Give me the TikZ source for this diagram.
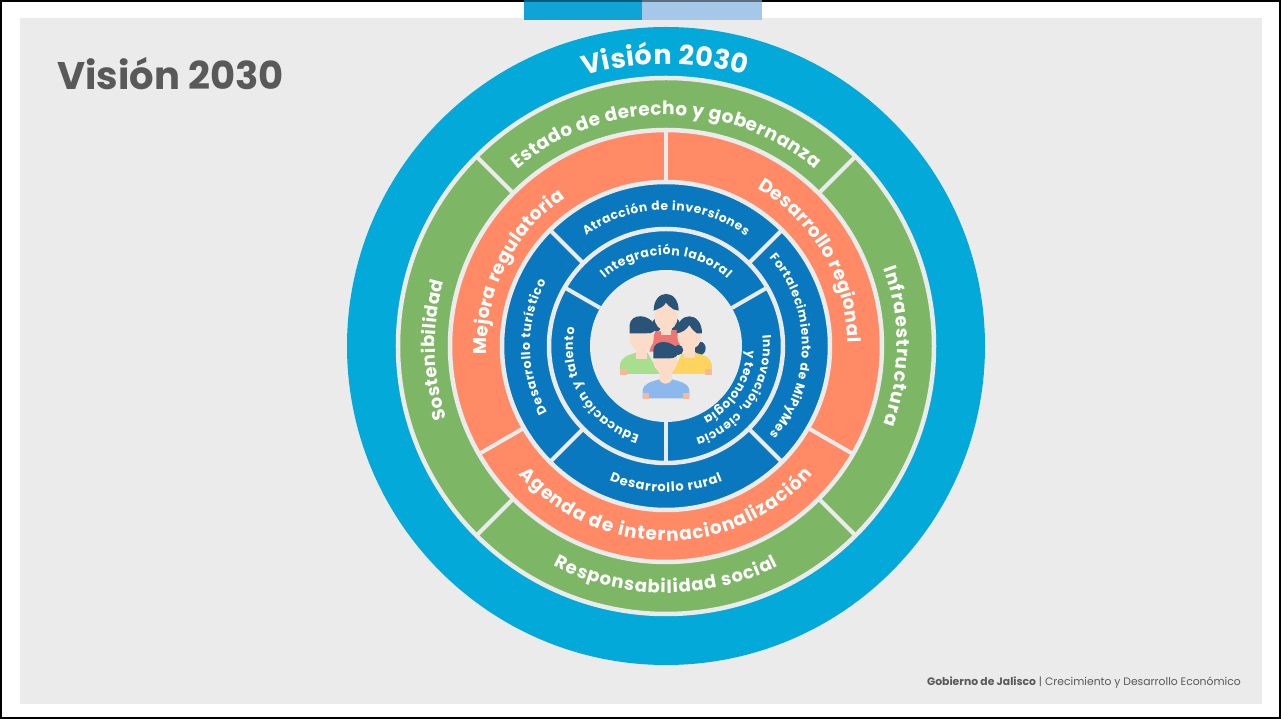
\documentclass[tikz,border=0pt]{standalone}
\usepackage{fontspec}
\setmainfont{Poppins}
\usetikzlibrary{decorations.text}
\definecolor{panel}{HTML}{EBEBEB}
\definecolor{cyanring}{HTML}{03A9D8}
\definecolor{greenring}{HTML}{7DB765}
\definecolor{orangering}{HTML}{FF8A65}
\definecolor{bluering}{HTML}{0A78BE}
\definecolor{tabdark}{HTML}{0FA3D6}
\definecolor{tablight}{HTML}{A6C8E8}
\definecolor{titlegrey}{HTML}{595959}
\definecolor{hair}{HTML}{2A5378}
\definecolor{skin}{HTML}{FBDCC8}
\definecolor{skindark}{HTML}{F7B79B}
\definecolor{shirtred}{HTML}{EF7474}
\definecolor{shirtgreen}{HTML}{A8DF8E}
\definecolor{shirtyellow}{HTML}{FFD45E}
\definecolor{shirtblue}{HTML}{8DB8EE}
\newcommand\fs[1]{\fontsize{#1}{#1}\selectfont\bfseries}
% radius, start angle, end angle, font size, letter spacing, text
\newcommand\ringtext[6]{\path[decorate,decoration={text effects along path,text align=center,text={#6},
    text effects/.cd,text along path,characters={text=white,font=\fs{#4},inner xsep=#5pt}}]
  (#2:#1) arc[start angle=#2,end angle=#3,radius=#1];}
\tikzset{
  ring/.style={draw=panel,line width=4.5pt},
  gap/.style={draw=panel,line width=4pt}
}
\begin{document}
\begin{tikzpicture}[x=1pt,y=1pt]
\useasboundingbox (-666,-373) rectangle (615,346);
% page
\fill[white] (-666,-373) rectangle (615,346);
\fill[panel] (-646,-358) rectangle (596,328);
\draw[black,line width=2pt] (-665,-372) rectangle (614,345);
\fill[tabdark] (-142,326) rectangle (-24,346);
\fill[tablight] (-24,326) rectangle (96,346);
\fill[black,opacity=.45] (-142,344) rectangle (96,345.5);
\node[anchor=west,text=titlegrey,font=\fontsize{38.5}{38.5}\selectfont\bfseries,inner sep=0pt] (title) at (-609,272.5) {Visión 2030};
\node[anchor=east,text=titlegrey,font=\fontsize{10.8}{10.8}\selectfont,inner sep=0pt] (foot) at (575,-337) {\textbf{Gobierno de Jalisco} | Crecimiento y Desarrollo Económico};
% rings
\fill[cyanring] (0,0) circle (319);
\filldraw[fill=greenring,ring] (0,0) circle (268);
\foreach \a in {45,135,225,315}{\draw[gap] (\a:216) -- (\a:268);}
\filldraw[fill=orangering,ring] (0,0) circle (216);
\foreach \a in {90,210,330}{\draw[gap] (\a:164) -- (\a:216);}
\filldraw[fill=bluering,ring] (0,0) circle (164);
\foreach \a in {45,135,225,315}{\draw[gap] (\a:117) -- (\a:164);}
\filldraw[fill=bluering,ring] (0,0) circle (117);
\foreach \a in {30,150,270}{\draw[gap] (\a:76) -- (\a:117);}
\fill[panel] (0,0) circle (76);
% ring labels
\ringtext{282}{115.2}{65.2}{27}{0.25}{Visión 2030}
\ringtext{231}{135}{45}{18.5}{0.22}{Estado de derecho y gobernanza}
\ringtext{231}{226}{136}{18}{0.2}{Sostenibilidad}
\ringtext{231}{45}{-45}{18.5}{0.45}{Infraestructura}
\ringtext{247}{225}{315}{18}{0.45}{Responsabilidad social}
\ringtext{179}{213.5}{93.5}{18.5}{0.15}{Mejora regulatoria}
\ringtext{182}{90.5}{-29.5}{18.5}{0.15}{Desarrollo regional}
\ringtext{195}{210}{330}{18.5}{0.5}{Agenda de internacionalización}
\ringtext{136}{135}{45}{12.3}{0.3}{Atracción de inversiones}
\ringtext{136}{225.5}{135.5}{12.5}{0.35}{Desarrollo turístico}
\ringtext{136}{45}{-45}{12.3}{0.3}{Fortalecimiento de MiPyMes}
\ringtext{146}{225}{315}{13}{0.4}{Desarrollo rural}
\ringtext{91}{150}{30}{12.5}{0.3}{Integración laboral}
\ringtext{93}{271}{151}{12.5}{0.3}{Educación y talento}
\ringtext{97}{27}{-93}{12.3}{0.25}{Innovación, ciencia}
\ringtext{81}{27}{-93}{12.3}{0.25}{y tecnología}
% people icon
\begin{scope}[shift={(-106,76)},x=0.3333pt,y=-0.3333pt]
  % back girl
  \fill[hair] (290,165) ellipse (14 and 20);
  \fill[hair] (346,165) ellipse (14 and 20);
  \fill[shirtred] (268,245) -- (285,185) -- (350,180) -- (365,245) -- cycle;
  \fill[skin] (302,150) rectangle (334,195);
  \fill[skin] (318,140) ellipse (35 and 42);
  \fill[hair] (281,122) .. controls (281,55) and (356,55) .. (356,122) -- (340,118) .. controls (330,108) and (322,108) .. (318,98) .. controls (312,110) and (300,115) .. (281,122) -- cycle;
  % left boy
  \fill[shirtgreen] (180,312) -- (180,285) .. controls (182,262) and (205,255) .. (228,248) -- (262,248) -- (300,312) -- cycle;
  \fill[skindark] (180,298) rectangle (200,314);
  \fill[skin] (228,225) rectangle (262,268);
  \fill[skin] (245,205) ellipse (36 and 40);
  \fill[hair] (270,175) circle (15);
  \fill[hair] (209,190) -- (209,165) .. controls (212,130) and (265,130) .. (285,165) .. controls (285,178) and (280,190) .. (258,190) -- cycle;
  % right girl
  \fill[hair] (420,235) ellipse (17 and 20);
  \fill[shirtyellow] (335,312) -- (365,252) -- (405,248) .. controls (440,258) and (456,262) .. (456,295) -- (456,312) -- cycle;
  \fill[skindark] (436,298) rectangle (456,314);
  \fill[skin] (372,220) rectangle (404,265);
  \fill[skin] (388,200) ellipse (36 and 38);
  \fill[hair] (350,190) .. controls (350,122) and (426,122) .. (426,190) -- (410,190) .. controls (398,178) and (392,175) .. (388,165) .. controls (380,178) and (368,188) .. (350,190) -- cycle;
  % front boy
  \fill[shirtblue] (248,385) -- (248,362) .. controls (250,340) and (275,335) .. (298,328) -- (336,328) .. controls (362,335) and (386,340) .. (388,362) -- (388,385) -- cycle;
  \fill[skindark] (248,370) rectangle (268,387);
  \fill[skindark] (368,370) rectangle (388,387);
  \fill[skin] (300,295) -- (334,295) -- (336,330) .. controls (325,345) and (308,345) .. (298,330) -- cycle;
  \fill[skin] (316,275) ellipse (36 and 36);
  \fill[hair] (355,240) circle (15);
  \fill[hair] (280,265) -- (280,240) .. controls (282,208) and (335,208) .. (355,240) .. controls (355,255) and (350,265) .. (328,265) -- cycle;
\end{scope}
\end{tikzpicture}
\end{document}
